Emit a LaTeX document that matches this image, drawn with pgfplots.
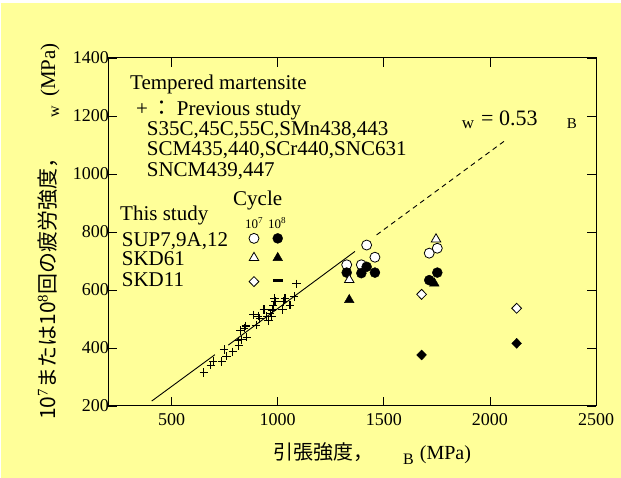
\documentclass[border=0pt]{standalone}
\usepackage{fontspec}
\setmainfont{Liberation Serif}
\newfontfamily\cjk{Noto Sans CJK JP}
\usepackage{pgfplots}
\pgfplotsset{compat=1.18}
\definecolor{bgyel}{RGB}{255,255,153}
\newcommand\fs[1]{\fontsize{#1bp}{#1bp}\selectfont}

\begin{document}
\begin{tikzpicture}
\fill[white] (0bp,0bp) rectangle (621bp,478bp);
\fill[bgyel] (1bp,0bp) rectangle (621bp,475bp);
\begin{axis}[
    at={(108bp,72bp)}, anchor=south west,
    scale only axis, width=488bp, height=348bp,
    xmin=200, xmax=2500, ymin=200, ymax=1400,
    xtick={500,1000,1500,2000,2500},
    ytick={200,400,600,800,1000,1200,1400},
    major tick length=9bp,
    tick style={black, line width=0.8bp},
    axis line style={black, line width=1bp},
    ticklabel style={font=\fs{18}},
    xticklabel style={yshift=-4bp},
    yticklabel style={xshift=4.5bp},
    /pgf/number format/assume math mode=true,
    /pgf/number format/set thousands separator={},
    scaled ticks=false,
    clip=false,
]
% sigma_w = 0.53 sigma_B
\addplot[black, line width=0.9bp] coordinates {(406,217) (704,377)};
\addplot[black, line width=0.9bp] coordinates {(767,410) (1364,733)};
\addplot[black, line width=0.9bp, dash pattern=on 5bp off 4bp] coordinates {(1466,790) (2071,1115)};

% previous study
\addplot[only marks, mark=+, mark size=4.2bp, mark options={line width=1.1bp}] coordinates {
    (652,315) (685,341) (696,353) (736,353) (759,372) (747,395) (788,387)
    (817,409) (814,425) (830,428) (854,437) (842,468) (825,460) (850,476)
    (898,479) (885,514) (908,510) (916,502) (935,533) (948,508) (956,494)
    (964,520) (972,508) (974,531) (979,548) (987,560) (984,571) (1026,560)
    (1034,571) (1023,533) (1058,548) (1077,577) (1089,621)
};

% this study (last point of each series is the key symbol)
\addplot[only marks, mark=*, mark size=5bp, mark options={fill=white, draw=black, line width=0.8bp}] coordinates {
    (1325,687) (1394,687) (1419,755) (1458,713) (1714,727) (1752,744) (888,778)
};
\addplot[only marks, mark=*, mark size=5bp, mark options={fill=black, draw=black}] coordinates {
    (1325,660) (1394,658) (1419,680) (1458,660) (1714,634) (1752,660) (1000,778)
};
\addplot[only marks, mark=triangle*, mark size=5.5bp, mark options={fill=white, draw=black, line width=0.8bp}] coordinates {
    (1337,635) (1746,775) (888,711)
};
\addplot[only marks, mark=triangle*, mark size=5.5bp, mark options={fill=black, draw=black}] coordinates {
    (1337,566) (1738,623) (1000,711)
};
\addplot[only marks, mark=diamond*, mark size=5bp, mark options={xscale=1.3, fill=white, draw=black, line width=0.8bp}] coordinates {
    (1678,585) (2126,537) (888,629)
};
\addplot[only marks, mark=diamond*, mark size=5bp, mark options={xscale=1.3, fill=black, draw=black}] coordinates {
    (1678,376) (2126,416)
};
\draw[line width=2.5bp] (axis cs:977,632) -- (axis cs:1024,632);
\end{axis}

\begin{scope}[x=1bp, y=1bp]
% annotation block
\begin{scope}[every node/.style={inner sep=0pt, anchor=base west, font=\fs{21}}]
\node at (130,388) {Tempered martensite};
\node at (136,363) {+};
\node at (151,363) {\cjk ：};
\node at (176.7,363) {Previous study};
\node at (146.7,343) {S35C,45C,55C,SMn438,443};
\node at (146.7,323) {SCM435,440,SCr440,SNC631};
\node at (146.7,301.3) {SNCM439,447};
\node at (233,273) {Cycle};
\node at (120,258) {This study};
\node[font=\fs{13}] at (245,250) {10\textsuperscript{7}};
\node[font=\fs{13}] at (268,250) {10\textsuperscript{8}};
\node at (121.7,232) {SUP7,9A,12};
\node at (121.7,213) {SKD61};
\node at (121.7,191.3) {SKD11};
% line label
\node[font=\fs{17}] at (461.7,349.7) {w};
\node[font=\fs{22}] at (481,353) {= 0.53};
\node[font=\fs{15}] at (566.7,349.7) {B};
\end{scope}

% axis titles
\node[inner sep=0pt, anchor=base west, font=\fs{20}] at (273,19) {{\cjk 引張強度，}\hspace{30bp}\raisebox{-5bp}{\fs{16}B}\hspace{6bp}(MPa)};
\node[inner sep=0pt, anchor=base west, rotate=90, font=\fs{21}] at (55,58) {{\cjk 10}\textsuperscript{7}{\cjk または10}\textsuperscript{8}{\cjk 回の疲労強度，}\hspace{30bp}\raisebox{-4bp}{\fs{16}w}\hspace{9bp}(MPa)};
\end{scope}
\end{tikzpicture}
\end{document}
